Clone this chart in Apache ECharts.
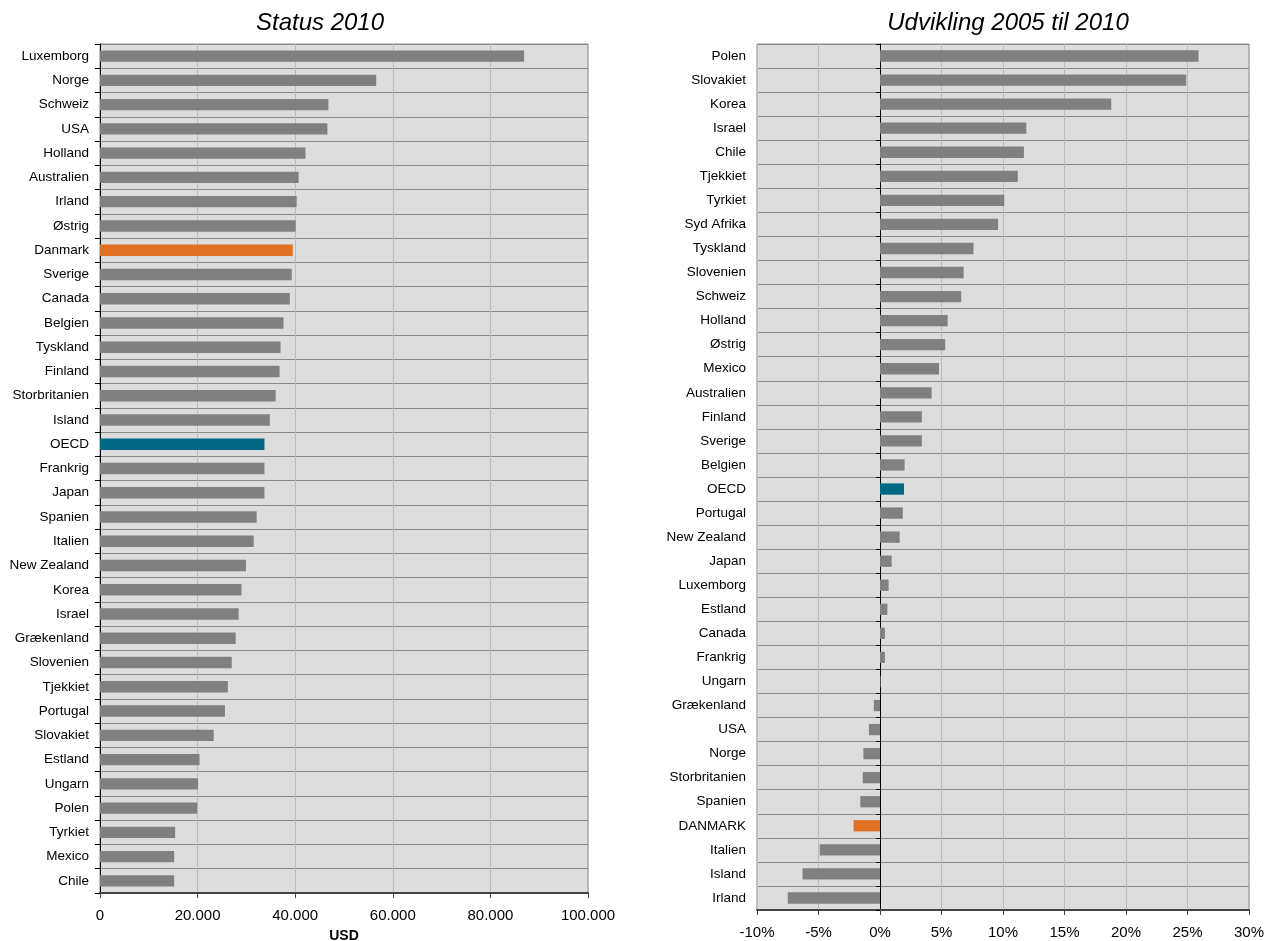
<!DOCTYPE html>
<html><head><meta charset="utf-8">
<script src="https://cdn.jsdelivr.net/npm/echarts@6/dist/echarts.min.js"></script>
<style>html,body{margin:0;padding:0;background:#fff}#c{width:1275px;height:941px}</style>
</head><body><div id="c"></div>
<script>
const leftCats = ['Luxemborg','Norge','Schweiz','USA','Holland','Australien','Irland','Østrig','Danmark','Sverige','Canada','Belgien','Tyskland','Finland','Storbritanien','Island','OECD','Frankrig','Japan','Spanien','Italien','New Zealand','Korea','Israel','Grækenland','Slovenien','Tjekkiet','Portugal','Slovakiet','Estland','Ungarn','Polen','Tyrkiet','Mexico','Chile'];
const leftVals = [86900,56600,46800,46600,42100,40700,40300,40100,39500,39300,38900,37600,37000,36800,36000,34800,33700,33700,33700,32100,31500,29900,29000,28400,27800,27000,26200,25600,23300,20400,20100,19900,15400,15200,15200];
const rightCats = ['Polen','Slovakiet','Korea','Israel','Chile','Tjekkiet','Tyrkiet','Syd Afrika','Tyskland','Slovenien','Schweiz','Holland','Østrig','Mexico','Australien','Finland','Sverige','Belgien','OECD','Portugal','New Zealand','Japan','Luxemborg','Estland','Canada','Frankrig','Ungarn','Grækenland','USA','Norge','Storbritanien','Spanien','DANMARK','Italien','Island','Irland'];
const rightVals = [25.9,24.9,18.8,11.9,11.7,11.2,10.1,9.6,7.6,6.8,6.6,5.5,5.3,4.8,4.2,3.4,3.4,2.0,1.95,1.85,1.6,0.95,0.7,0.6,0.4,0.4,0.05,-0.5,-0.9,-1.35,-1.4,-1.6,-2.15,-4.9,-6.3,-7.5];
const leftTicks = {min:0,max:100000,interval:20000};
const rightTicks = {min:-10,max:30,interval:5};
const titles = ['Status 2010','Udvikling 2005 til 2010'];
const xName = 'USD';

const GRAY='#808080', ORANGE='#E07122', TEAL='#006882';
function colorFor(c){ if(c==='Danmark'||c==='DANMARK') return ORANGE; if(c==='OECD') return TEAL; return GRAY; }
const font = 'Liberation Sans, Arial, sans-serif';

const chart = echarts.init(document.getElementById('c'));
const catAxisBase = {
  type:'category', inverse:true,
  axisLabel:{color:'#000',fontSize:13.5,fontFamily:font,margin:11},
  splitLine:{show:true,lineStyle:{color:'#888',width:1}},
  axisTick:{show:false}, axisLine:{show:false}
};
const titleStyle = {fontSize:24,fontStyle:'italic',fontWeight:'normal',fontFamily:font,color:'#000'};
chart.setOption({
  animation:false,
  title:[
    {text:titles[0],left:315,top:6,textAlign:'center',textStyle:titleStyle},
    {text:titles[1],left:1003,top:6,textAlign:'center',textStyle:titleStyle}
  ],
  grid:[
    {left:100,top:44,width:488,height:849,show:true,backgroundColor:'#dddddd',borderColor:'#888',borderWidth:1,outerBoundsMode:'none',containLabel:false},
    {left:757,top:44,width:492,height:866,show:true,backgroundColor:'#dddddd',borderColor:'#888',borderWidth:1,outerBoundsMode:'none',containLabel:false}
  ],
  xAxis:[
    {type:'value',gridIndex:0,min:leftTicks.min,max:leftTicks.max,interval:leftTicks.interval,
     name:xName,nameLocation:'middle',nameGap:36,nameTextStyle:{fontWeight:'bold',fontSize:14,fontFamily:font,color:'#000'},
     axisLabel:{color:'#000',fontSize:15,fontFamily:font,margin:15,formatter:v=>v===0?'0':v.toLocaleString('de-DE')},
     axisLine:{show:true,lineStyle:{color:'#444',width:2}},axisTick:{show:true,length:5,lineStyle:{color:'#444'}},
     splitLine:{show:true,lineStyle:{color:'#bbbbbb',width:1}}},
    {type:'value',gridIndex:1,min:rightTicks.min,max:rightTicks.max,interval:rightTicks.interval,
     axisLabel:{color:'#000',fontSize:15,fontFamily:font,margin:15,formatter:'{value}%'},
     axisLine:{show:true,onZero:false,lineStyle:{color:'#444',width:2}},axisTick:{show:true,length:5,lineStyle:{color:'#444'}},
     splitLine:{show:true,lineStyle:{color:'#bbbbbb',width:1}}}
  ],
  yAxis:[
    Object.assign({},catAxisBase,{gridIndex:0,data:leftCats,axisLine:{show:true,lineStyle:{color:'#000',width:1}},axisTick:{show:true,length:5,lineStyle:{color:'#000'}}}),
    Object.assign({},catAxisBase,{gridIndex:1,data:rightCats,axisLine:{show:false,onZero:false}}),
    {type:'category',gridIndex:1,inverse:true,data:rightCats,position:'left',
     axisLine:{show:true,onZero:true,lineStyle:{color:'#000',width:1}},axisTick:{show:true,length:4,lineStyle:{color:'#000'}},
     axisLabel:{show:false},splitLine:{show:false}}
  ],
  series:[
    {type:'bar',xAxisIndex:0,yAxisIndex:0,barWidth:'47%',data:leftVals.map((v,i)=>({value:v,itemStyle:{color:colorFor(leftCats[i])}}))},
    {type:'bar',xAxisIndex:1,yAxisIndex:1,barWidth:'47%',data:rightVals.map((v,i)=>({value:v,itemStyle:{color:colorFor(rightCats[i])}}))}
  ]
});
</script></body></html>
